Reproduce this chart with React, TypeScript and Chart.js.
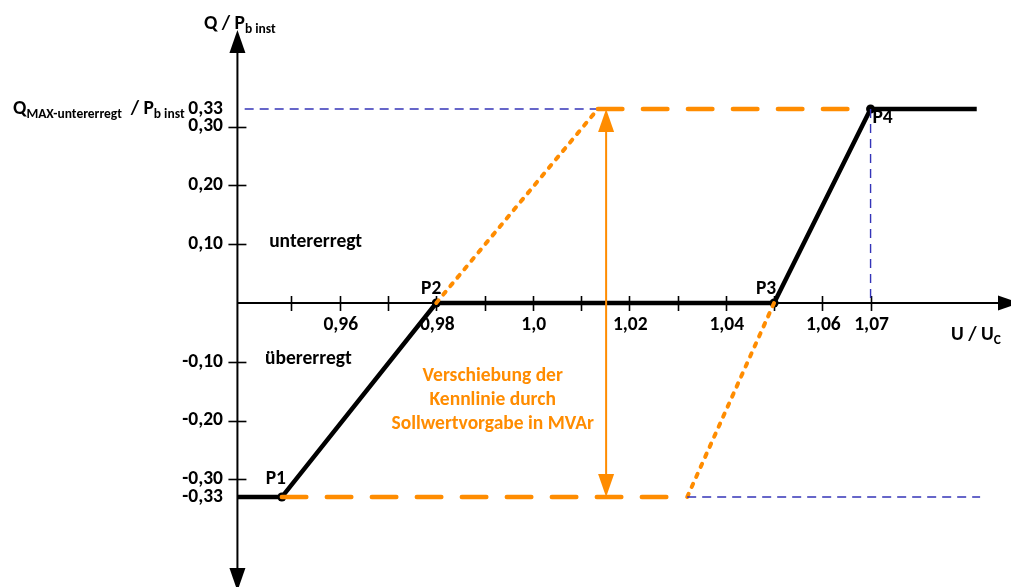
import React, { useEffect, useRef } from "react";
import { Chart, registerables } from "chart.js";

Chart.register(...registerables);

// ---- Axis ranges (U / Uc horizontal, Q / Pb inst vertical) ----
const X_MIN = 0.8896;
const X_MAX = 1.0991;
const Y_MIN = -0.483;
const Y_MAX = 0.5153;
const AXIS_CROSS_U = 0.9388;

// ---- Characteristic curve (black) ----
const kennlinieU = [0.9388, 0.948, 0.98, 1.05, 1.07, 1.092];
const kennlinieQ = [-0.33, -0.33, 0, 0, 0.33, 0.33];
const kennlinieLabels = ["", "P1", "P2", "P3", "P4", ""];

// ---- Shifted characteristic (orange) ----
const shiftTopDashU = [1.0135, 1.0657];
const shiftTopDashQ = [0.33, 0.33];
const shiftTopDotU = [0.98, 1.0135];
const shiftTopDotQ = [0, 0.33];
const shiftBottomDashU = [0.948, 1.0295];
const shiftBottomDashQ = [-0.33, -0.33];
const shiftBottomDotU = [1.032, 1.05];
const shiftBottomDotQ = [-0.33, 0];

// ---- Reference lines (blue) ----
const refTopU = [0.9403, 1.0131];
const refTopQ = [0.33, 0.33];
const refBottomU = [1.032, 1.0927];
const refBottomQ = [-0.33, -0.33];
const refVertU = [1.07, 1.07];
const refVertQ = [0.33, 0];

// ---- Shift arrow ----
const shiftArrowU = 1.0152;
const shiftArrowQ = [0.33, -0.33];

// ---- Ticks ----
const xTickValues = [0.95, 0.96, 0.97, 0.98, 0.99, 1.0, 1.01, 1.02, 1.03, 1.04, 1.05, 1.06, 1.07];
const xLabelValues = [0.96, 0.98, 1.0, 1.02, 1.04, 1.06, 1.07];
const xLabels = ["0,96", "0,98", "1,0", "1,02", "1,04", "1,06", "1,07"];
const yTickValues = [0.3, 0.2, 0.1, -0.1, -0.2, -0.3];
const yLabelValues = [0.33, 0.3, 0.2, 0.1, -0.1, -0.2, -0.3, -0.33];
const yLabels = ["0,33", "0,30", "0,20", "0,10", "-0,10", "-0,20", "-0,30", "-0,33"];

// ---- Annotation texts ----
const regionTexts = ["untererregt", "übererregt"];
const regionU = [0.955, 0.9535];
const regionQ = [0.104, -0.095];
const shiftTextLines = ["Verschiebung der", "Kennlinie durch", "Sollwertvorgabe in MVAr"];
const shiftTextU = 0.9917;
const shiftTextQ = [-0.1236, -0.165, -0.206];

const FONT = "Carlito, Calibri, Lato, sans-serif";
const FS = 19.5;
const FS_SUB = 13.5;
const ORANGE = "#FF8C00";
const BLUE = "#3434B8";

const pts = (xs: number[], ys: number[]) => xs.map((x, i) => ({ x, y: ys[i] }));

function drawRich(ctx: CanvasRenderingContext2D, parts: [string, number, number][], x: number, y: number) {
  let cx = x;
  for (const [t, size, dy] of parts) {
    ctx.font = `bold ${size}px ${FONT}`;
    ctx.textAlign = "left";
    ctx.textBaseline = "alphabetic";
    ctx.fillText(t, cx, y + dy);
    cx += ctx.measureText(t).width;
  }
}

function arrowHead(ctx: CanvasRenderingContext2D, tipX: number, tipY: number, dirX: number, dirY: number, len: number, half: number) {
  const bx = tipX - dirX * len;
  const by = tipY - dirY * len;
  const px = -dirY;
  const py = dirX;
  ctx.beginPath();
  ctx.moveTo(tipX, tipY);
  ctx.lineTo(bx + px * half, by + py * half);
  ctx.lineTo(bx - px * half, by - py * half);
  ctx.closePath();
  ctx.fill();
}

const decorPlugin = {
  id: "decor",
  beforeDatasetsDraw(chart: any) {
    const ctx: CanvasRenderingContext2D = chart.ctx;
    const xs = chart.scales.x;
    const ys = chart.scales.y;
    const ax = xs.getPixelForValue(AXIS_CROSS_U);
    const ay = ys.getPixelForValue(0);
    ctx.save();
    ctx.strokeStyle = "#000";
    ctx.fillStyle = "#000";
    ctx.lineWidth = 2;
    // y axis
    ctx.beginPath();
    ctx.moveTo(ax, 40);
    ctx.lineTo(ax, chart.height);
    ctx.stroke();
    arrowHead(ctx, ax, 30, 0, -1, 23, 8);
    arrowHead(ctx, ax, chart.height + 4, 0, 1, 23, 8);
    // x axis
    ctx.beginPath();
    ctx.moveTo(ax, ay);
    ctx.lineTo(chart.width - 5, ay);
    ctx.stroke();
    arrowHead(ctx, chart.width + 9, ay, 1, 0, 22, 7.5);
    // x ticks
    ctx.lineWidth = 1.6;
    for (const v of xTickValues) {
      const px = Math.round(xs.getPixelForValue(v)) + 0.5;
      ctx.beginPath();
      ctx.moveTo(px, ay - 7);
      ctx.lineTo(px, ay + 8);
      ctx.stroke();
    }
    // y ticks
    for (const v of yTickValues) {
      const py = Math.round(ys.getPixelForValue(v)) + 0.5;
      ctx.beginPath();
      ctx.moveTo(ax - 9, py);
      ctx.lineTo(ax + 9, py);
      ctx.stroke();
    }
    ctx.restore();
  },
  afterDatasetsDraw(chart: any) {
    const ctx: CanvasRenderingContext2D = chart.ctx;
    const xs = chart.scales.x;
    const ys = chart.scales.y;
    const ay = ys.getPixelForValue(0);
    ctx.save();
    ctx.fillStyle = "#000";
    // x labels
    ctx.font = `bold ${FS}px ${FONT}`;
    ctx.textAlign = "center";
    ctx.textBaseline = "middle";
    xLabelValues.forEach((v, i) => {
      ctx.fillText(xLabels[i], xs.getPixelForValue(v) + 1, ay + 22);
    });
    // y labels
    ctx.textAlign = "right";
    yLabelValues.forEach((v, i) => {
      ctx.fillText(yLabels[i], 223, ys.getPixelForValue(v));
    });
    // region texts
    ctx.textAlign = "center";
    regionTexts.forEach((t, i) => {
      ctx.fillText(t, xs.getPixelForValue(regionU[i]), ys.getPixelForValue(regionQ[i]));
    });
    // point labels
    const offs: [number, number][] = [[0, 0], [-6, -18], [-5, -14], [-8, -14], [12, 9], [0, 0]];
    kennlinieLabels.forEach((t, i) => {
      if (!t) return;
      ctx.fillText(t, xs.getPixelForValue(kennlinieU[i]) + offs[i][0], ys.getPixelForValue(kennlinieQ[i]) + offs[i][1]);
    });
    // axis titles
    drawRich(ctx, [["Q / P", FS, 0], ["b inst", FS_SUB, 4]], 204, 29);
    drawRich(ctx, [["Q", FS, 0], ["MAX-untererregt", FS_SUB, 4], ["  / P", FS, 0], ["b inst", FS_SUB, 4]], 13, 114);
    drawRich(ctx, [["U / U", FS, 0], ["C", FS_SUB, 4]], 951, 340);
    // shift arrow
    const arX = xs.getPixelForValue(shiftArrowU);
    const top = ys.getPixelForValue(shiftArrowQ[0]);
    const bot = ys.getPixelForValue(shiftArrowQ[1]);
    ctx.strokeStyle = ORANGE;
    ctx.fillStyle = ORANGE;
    ctx.lineWidth = 2;
    ctx.beginPath();
    ctx.moveTo(arX, top + 20);
    ctx.lineTo(arX, bot - 20);
    ctx.stroke();
    arrowHead(ctx, arX, top, 0, -1, 23, 8);
    arrowHead(ctx, arX, bot, 0, 1, 23, 8);
    // shift text
    ctx.font = `bold ${FS}px ${FONT}`;
    ctx.textAlign = "center";
    ctx.textBaseline = "middle";
    shiftTextLines.forEach((t, i) => {
      ctx.fillText(t, xs.getPixelForValue(shiftTextU), ys.getPixelForValue(shiftTextQ[i]));
    });
    ctx.restore();
  },
};

export default function App() {
  const ref = useRef<HTMLCanvasElement | null>(null);
  useEffect(() => {
    if (!ref.current) return;
    const orangeDash = { borderColor: ORANGE, borderWidth: 4.5, borderDash: [24.5, 20.5], borderCapStyle: "round" as const, pointRadius: 0, showLine: true, fill: false };
    const orangeDot = { borderColor: ORANGE, borderWidth: 4, borderDash: [3.5, 7.5], borderCapStyle: "round" as const, pointRadius: 0, showLine: true, fill: false };
    const blueDash = { borderColor: BLUE, borderWidth: 1.4, borderDash: [9, 6], pointRadius: 0, showLine: true, fill: false };
    const chart = new Chart(ref.current, {
      type: "scatter",
      data: {
        datasets: [
          { label: "ref top", data: pts(refTopU, refTopQ), ...blueDash },
          { label: "ref bottom", data: pts(refBottomU, refBottomQ), ...blueDash },
          { label: "ref vert", data: pts(refVertU, refVertQ), ...blueDash },
          { label: "shift top", data: pts(shiftTopDashU, shiftTopDashQ), ...orangeDash },
          { label: "shift top dot", data: pts(shiftTopDotU, shiftTopDotQ), ...orangeDot },
          { label: "shift bottom", data: pts(shiftBottomDashU, shiftBottomDashQ), ...orangeDash },
          { label: "shift bottom dot", data: pts(shiftBottomDotU, shiftBottomDotQ), ...orangeDot },
          {
            label: "Kennlinie",
            data: pts(kennlinieU, kennlinieQ),
            borderColor: "#000",
            borderWidth: 4.5,
            showLine: true,
            fill: false,
            pointRadius: kennlinieLabels.map((l) => (l ? 4.5 : 0)),
            pointBackgroundColor: "#000",
            pointBorderWidth: 0,
          },
        ] as any,
      },
      options: {
        responsive: false,
        animation: false,
        events: [],
        layout: { padding: 0 },
        plugins: { legend: { display: false }, tooltip: { enabled: false } },
        scales: {
          x: { type: "linear", min: X_MIN, max: X_MAX, display: false },
          y: { type: "linear", min: Y_MIN, max: Y_MAX, display: false },
        },
      },
      plugins: [decorPlugin],
    });
    return () => chart.destroy();
  }, []);
  return (
    <div style={{ position: "fixed", left: 0, top: 0, width: 1011, height: 587, background: "#fff" }}>
      <canvas ref={ref} width={1011} height={587} />
    </div>
  );
}
